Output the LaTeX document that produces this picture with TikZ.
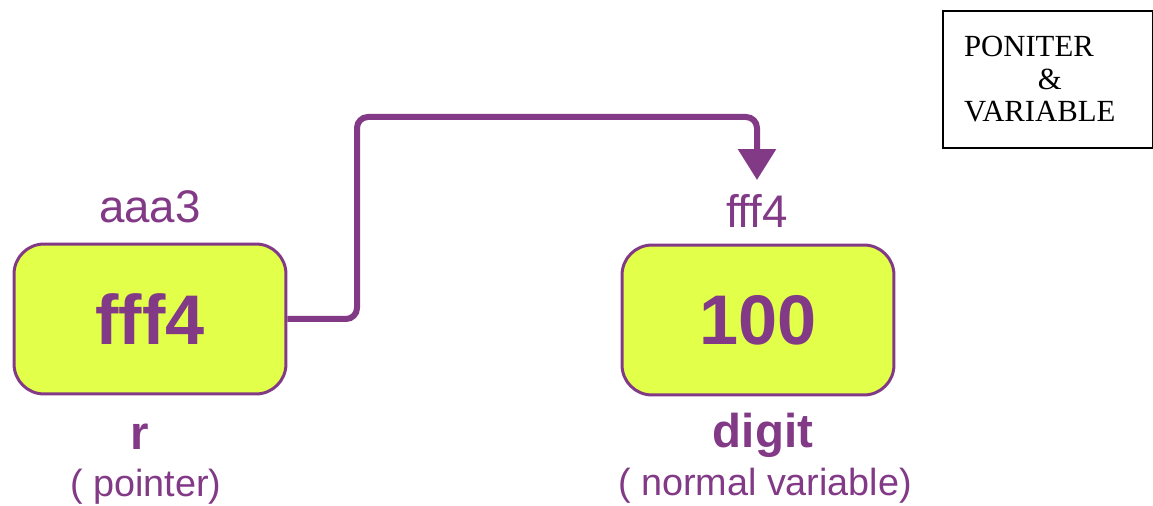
\documentclass[tikz,border=0pt]{standalone}
\usepackage{fontspec}
\setmainfont{Liberation Serif}
\newfontfamily\labelfont{Liberation Sans}
\usetikzlibrary{arrows.meta}
\definecolor{plum}{HTML}{823A87}
\definecolor{boxfill}{HTML}{E2FF4A}

\begin{document}
\begin{tikzpicture}[
		x=0.02cm, y=-0.02cm,
		every node/.style={text=plum, inner sep=0pt},
		varbox/.style={
			draw=plum, line width=0.06cm, fill=boxfill,
			rounded corners=0.6cm,
			minimum width=5.44cm, minimum height=3.0cm,
			font=\labelfont\bfseries\fontsize{40}{44}\selectfont,
		},
		addrlabel/.style={anchor=base, font=\labelfont\fontsize{26}{30}\selectfont},
		varname/.style={anchor=base, font=\labelfont\bfseries\fontsize{27}{30}\selectfont},
		kindlabel/.style={anchor=base, font=\labelfont\fontsize{21.5}{25}\selectfont},
		link/.style={draw=plum, line width=0.12cm, rounded corners=0.22cm,
			-{Triangle[width=0.74cm, length=0.62cm]}},
		]
		\useasboundingbox (0,0) rectangle (1153,506);
		
		\node[varbox]    (ptr)     at (150,319) {fff4};
		\node[varbox]    (val)     at (758,320) {100};
		\node[addrlabel] (ptraddr) at (150,223) {aaa3};
		\node[addrlabel] (valaddr) at (757,228) {fff4};
		\node[varname]   (ptrname) at (140,450) {r};
		\node[varname]   (valname) at (763,448) {digit};
		\node[kindlabel] (ptrkind) at (146,497) {( pointer)};
		\node[kindlabel] (valkind) at (765,496) {( normal variable)};
		
		\coordinate (tip) at (757,180);
		\draw[link] (ptr.east) -| (357,117) -| (tip);
		
		\node[draw=black, line width=0.04cm, text=black, anchor=north west,
		inner xsep=0.42cm, text width=3.36cm, minimum height=2.74cm,
		align=left, font=\fontsize{17.5}{18.5}\selectfont]
		(legend) at (942,10) {PONITER\\\hspace*{1.48cm}\&\\VARIABLE};
		
	\end{tikzpicture}
\end{document}
